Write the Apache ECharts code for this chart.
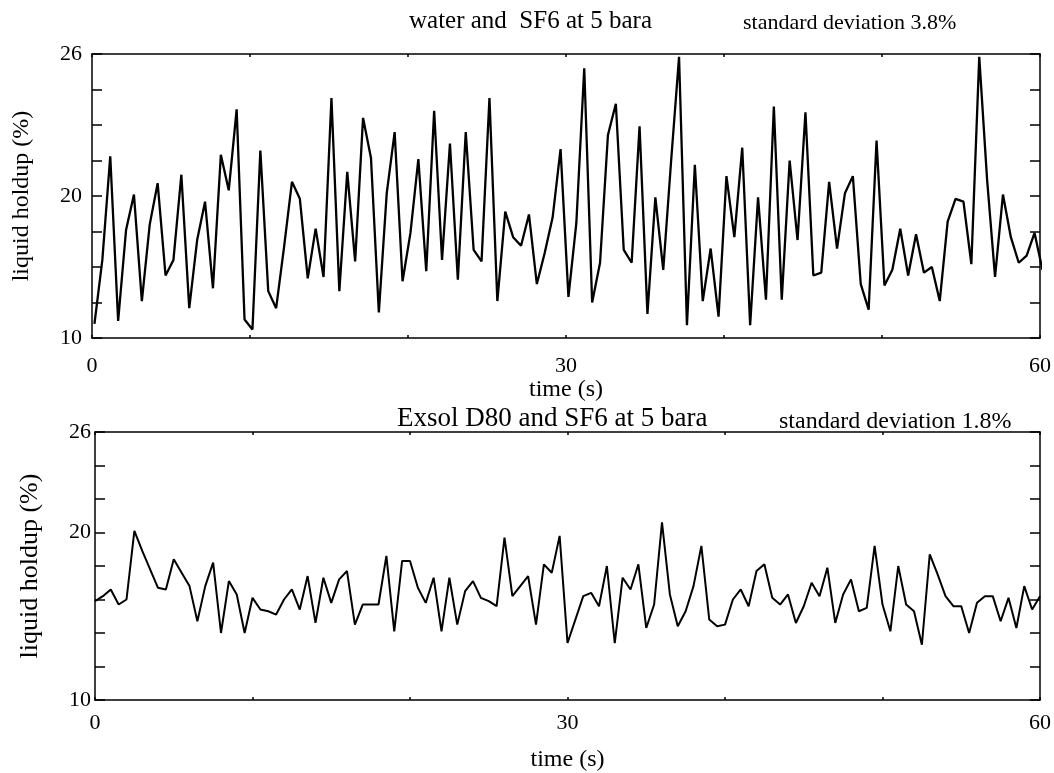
<!DOCTYPE html>
<html>
<head>
<meta charset="utf-8">
<script src="https://cdn.jsdelivr.net/npm/echarts@6/dist/echarts.min.js"></script>
<style>
html, body { margin: 0; padding: 0; background: #fff; }
#chart { width: 1054px; height: 773px; }
</style>
</head>
<body>
<div id="chart"></div>
<script>
// holdup traces, one sample every 0.5 s
const sampleStep = 0.5;

// water and SF6 at 5 bara
const waterStart = 0.155;
const waterHoldup = [
    11.0, 15.5, 22.8, 11.2, 17.6, 20.1, 12.6, 18.0, 20.9, 14.4,
    15.5, 21.5, 12.1, 16.9, 19.6, 13.5, 22.9, 20.4, 26.1, 11.3,
    10.6, 23.2, 13.3, 12.1, 16.4, 21.0, 19.8, 14.2, 17.7, 14.3,
    26.9, 13.3, 21.7, 15.4, 25.5, 22.7, 11.8, 20.2, 24.5, 14.0,
    17.4, 22.6, 14.7, 26.0, 15.5, 23.7, 14.1, 24.5, 16.2, 15.4,
    26.9, 12.6, 18.9, 17.1, 16.5, 18.7, 13.8, 16.0, 18.5, 23.3,
    12.9, 18.1, 29.0, 12.5, 15.3, 24.3, 26.5, 16.2, 15.3, 24.9,
    11.7, 19.9, 14.8, 22.5, 29.8, 10.9, 22.2, 12.6, 16.3, 11.5,
    21.4, 17.1, 23.4, 10.9, 19.9, 12.7, 26.3, 12.7, 22.5, 16.9,
    25.9, 14.4, 14.6, 21.0, 16.3, 20.2, 21.4, 13.8, 12.0, 23.9,
    13.7, 14.8, 17.7, 14.4, 17.3, 14.6, 15.0, 12.6, 18.2, 19.8,
    19.6, 15.2, 29.8, 21.1, 14.3, 20.1, 17.1, 15.3, 15.8, 17.4,
    14.8
];

// Exsol D80 and SF6 at 5 bara
const exsolStart = 0;
const exsolHoldup = [
    15.9, 16.2, 16.6, 15.7, 16.0, 20.1, 18.9, 17.8, 16.7, 16.6,
    18.4, 17.6, 16.8, 14.7, 16.8, 18.2, 14.0, 17.1, 16.3, 14.0,
    16.1, 15.4, 15.3, 15.1, 16.0, 16.6, 15.4, 17.4, 14.6, 17.3,
    15.8, 17.2, 17.7, 14.5, 15.7, 15.7, 15.7, 18.6, 14.1, 18.3,
    18.3, 16.7, 15.8, 17.3, 14.1, 17.3, 14.5, 16.5, 17.1, 16.1,
    15.9, 15.6, 19.7, 16.2, 16.8, 17.4, 14.5, 18.1, 17.6, 19.8,
    13.4, 14.8, 16.2, 16.4, 15.6, 18.0, 13.4, 17.3, 16.6, 18.1,
    14.3, 15.7, 20.6, 16.3, 14.4, 15.3, 16.8, 19.2, 14.8, 14.4,
    14.5, 16.0, 16.6, 15.6, 17.7, 18.1, 16.1, 15.7, 16.3, 14.6,
    15.6, 17.0, 16.2, 17.9, 14.6, 16.3, 17.2, 15.3, 15.5, 19.2,
    15.7, 14.1, 18.0, 15.7, 15.3, 13.3, 18.7, 17.5, 16.2, 15.6,
    15.6, 14.0, 15.8, 16.2, 16.2, 14.7, 16.1, 14.3, 16.8, 15.4,
    16.2
];

// labelled ticks
const timeTickValues = [0, 30, 60];
const timeTickText = ['0', '30', '60'];
const waterTickValues = [10, 20, 30];
const waterTickText = ['10', '20', '26'];
const exsolTickValues = [10, 20, 26];
const exsolTickText = ['10', '20', '26'];

const serif = '"Liberation Serif", "DejaVu Serif", serif';

function toPairs(start, values) {
    return values.map((v, i) => [start + i * sampleStep, v]);
}
function tickLabeler(values, text) {
    return (v) => {
        const i = values.indexOf(v);
        return i < 0 ? '' : text[i];
    };
}

const line = { color: '#000', width: 1.5 };

function timeAxis(grid, pos, show, margin, nameGap) {
    return {
        type: 'value', gridIndex: grid, position: pos,
        min: 0, max: 60, interval: 10,
        axisLine: { show: true, onZero: false, lineStyle: line },
        axisTick: { show: true, inside: true, length: 3, lineStyle: line },
        splitLine: { show: false },
        axisLabel: {
            show: show, margin: margin, color: '#000', fontFamily: serif, fontSize: 22,
            formatter: tickLabeler(timeTickValues, timeTickText)
        },
        name: show ? 'time (s)' : '',
        nameLocation: 'middle', nameGap: nameGap,
        nameTextStyle: { color: '#000', fontFamily: serif, fontSize: 24 }
    };
}

function holdupAxis(grid, pos, min, max, step, values, text, margin, nameGap, nameSize) {
    const left = pos === 'left';
    return {
        type: 'value', gridIndex: grid, position: pos,
        min: min, max: max, interval: step,
        axisLine: { show: true, onZero: false, lineStyle: line },
        axisTick: { show: true, inside: true, length: 10, lineStyle: line },
        splitLine: { show: false },
        axisLabel: {
            show: left, margin: margin, color: '#000', fontFamily: serif, fontSize: 22,
            showMinLabel: true, showMaxLabel: true,
            formatter: tickLabeler(values, text)
        },
        name: left ? 'liquid holdup (%)' : '',
        nameLocation: 'middle', nameRotate: 90, nameGap: nameGap,
        nameTextStyle: { color: '#000', fontFamily: serif, fontSize: nameSize }
    };
}

const chart = echarts.init(document.getElementById('chart'));
chart.setOption({
    animation: false,
    backgroundColor: '#fff',
    title: [
        { text: 'water and  SF6 at 5 bara', left: 404, top: 4,
          textStyle: { fontFamily: serif, fontWeight: 'normal', fontSize: 25, color: '#000' } },
        { text: 'standard deviation 3.8%', left: 738, top: 7,
          textStyle: { fontFamily: serif, fontWeight: 'normal', fontSize: 22, color: '#000' } },
        { text: 'Exsol D80 and SF6 at 5 bara', left: 392, top: 400,
          textStyle: { fontFamily: serif, fontWeight: 'normal', fontSize: 27, color: '#000' } },
        { text: 'standard deviation 1.8%', left: 774, top: 405,
          textStyle: { fontFamily: serif, fontWeight: 'normal', fontSize: 24, color: '#000' } }
    ],
    grid: [
        { left: 92, top: 54, width: 951, height: 284 },
        { left: 95, top: 432, width: 951, height: 270 }
    ],
    xAxis: [
        timeAxis(0, 'bottom', true, 17, 34),
        timeAxis(0, 'top', false, 0, 0),
        timeAxis(1, 'bottom', true, 12, 48),
        timeAxis(1, 'top', false, 0, 0)
    ],
    yAxis: [
        holdupAxis(0, 'left', 10, 30, 2.5, waterTickValues, waterTickText, 10, 58, 24),
        holdupAxis(0, 'right', 10, 30, 2.5, waterTickValues, waterTickText, 10, 0, 24),
        holdupAxis(1, 'left', 10, 26, 2, exsolTickValues, exsolTickText, 4, 52, 26),
        holdupAxis(1, 'right', 10, 26, 2, exsolTickValues, exsolTickText, 4, 0, 26)
    ],
    series: [
        {
            name: 'water and SF6', type: 'line', xAxisIndex: 0, yAxisIndex: 0,
            showSymbol: false, clip: true,
            lineStyle: { color: '#000', width: 2.3 },
            data: toPairs(waterStart, waterHoldup)
        },
        {
            name: 'Exsol D80 and SF6', type: 'line', xAxisIndex: 2, yAxisIndex: 2,
            showSymbol: false, clip: true,
            lineStyle: { color: '#000', width: 2 },
            data: toPairs(exsolStart, exsolHoldup)
        }
    ]
});
window.addEventListener('resize', () => chart.resize());
</script>
</body>
</html>
